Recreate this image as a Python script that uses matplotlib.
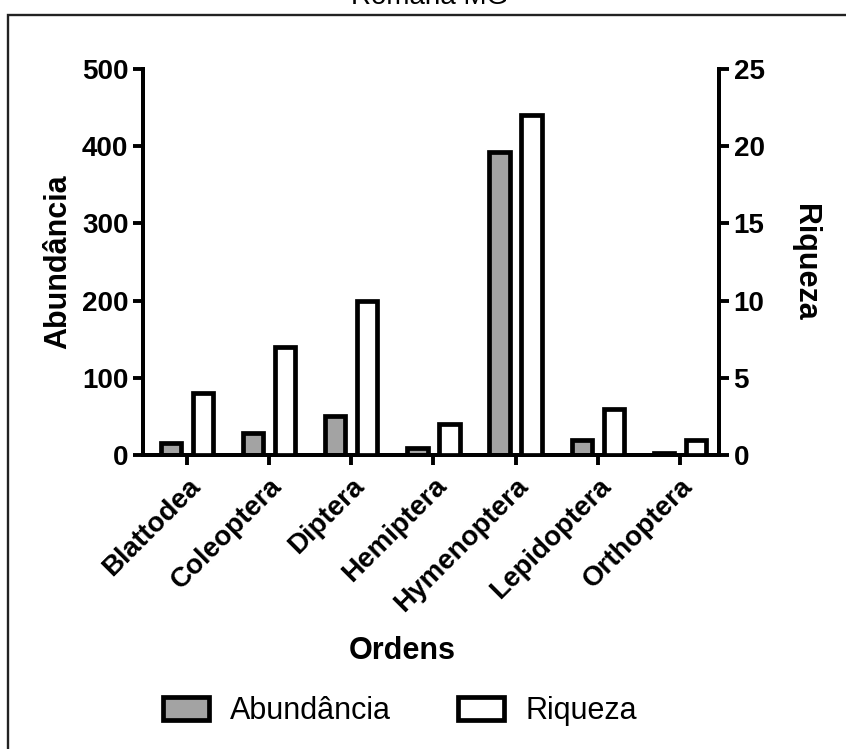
import numpy as np
import matplotlib
matplotlib.use('Agg')
import matplotlib.pyplot as plt
from matplotlib.patches import Rectangle, Patch

plt.rcParams['font.family'] = ['Liberation Sans', 'DejaVu Sans']

ordens = ['Blattodea', 'Coleoptera', 'Diptera', 'Hemiptera', 'Hymenoptera', 'Lepidoptera', 'Orthoptera']
abundancia = [16, 29, 51, 9, 393, 19, 3]
riqueza = [4, 7, 10, 2, 22, 3, 1]

fig = plt.figure(figsize=(8.46, 7.49), dpi=100)
ax = fig.add_axes([143/846, 1-455/749, (719-143)/846, (455-69)/749])
ax2 = ax.twinx()

x = np.arange(len(ordens))
w = 0.245
off = 0.195
ax.bar(x - off, abundancia, w, color='#a3a3a3', edgecolor='black', linewidth=3.4, zorder=3)
ax2.bar(x + off, riqueza, w, color='white', edgecolor='black', linewidth=3.4, zorder=3)

ax.set_xlim(-0.54, 6.48)
ax.set_ylim(0, 500)
ax2.set_ylim(0, 25)
ax.set_yticks(range(0, 501, 100))
ax2.set_yticks(range(0, 26, 5))
ax.set_xticks(x)
ax.set_xticklabels(ordens, rotation=45, ha='right', rotation_mode='anchor',
                   fontsize=18.5, fontweight='bold')

for a in (ax, ax2):
    a.spines['top'].set_visible(False)
    for s in a.spines.values():
        s.set_linewidth(2.8)
    a.tick_params(width=2.8, length=7, labelsize=20)
    for lab in a.get_yticklabels():
        lab.set_fontweight('bold')
ax.tick_params(axis='x', pad=6)

ax.set_ylabel('Abundância', fontsize=22, fontweight='bold', labelpad=6)
ax2.set_ylabel('Riqueza', fontsize=22, fontweight='bold', rotation=-90, labelpad=40)
ax.set_xlabel('Ordens', fontsize=22, fontweight='bold')
ax.xaxis.set_label_coords((402-143)/576, (455-636)/386)

# frame around the figure (cut at right/bottom edge)
fig.patches.append(Rectangle((8/846, -0.1), 1.2, 1.1 - 15/749, transform=fig.transFigure,
                             fill=False, edgecolor='#222222', linewidth=1.7))
fig.text(430/846, 1 - 4/749, 'Romaria MG', ha='center', va='baseline', fontsize=20)

handles = [Patch(facecolor='#a3a3a3', edgecolor='black', linewidth=3.4),
           Patch(facecolor='white', edgecolor='black', linewidth=3.4)]
fig.legend(handles, ['Abundância', 'Riqueza'], loc='center', bbox_to_anchor=(400/846, 1 - 711/749),
           ncol=2, frameon=False, fontsize=22, handlelength=1.5, handleheight=0.8,
           handletextpad=0.7, columnspacing=2.2)

fig.savefig('out.png', dpi=100)
